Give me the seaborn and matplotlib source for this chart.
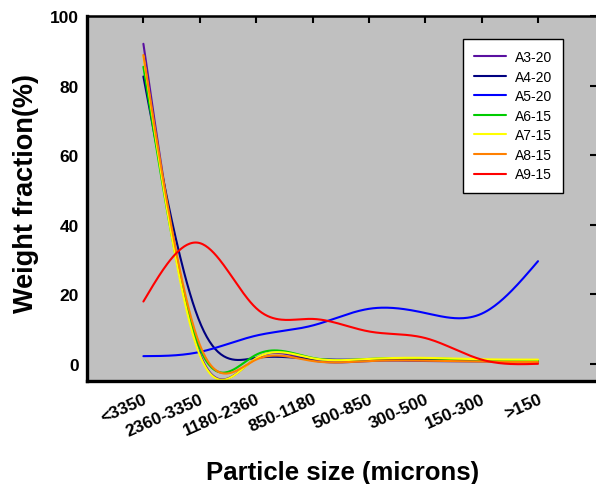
import numpy as np
import pandas as pd
import seaborn as sns
import matplotlib
matplotlib.use('Agg')
import matplotlib.pyplot as plt

# date (procente din greutate pe fractii granulometrice)
sizes = ['<3350', '2360-3350', '1180-2360', '850-1180',
         '500-850', '300-500', '150-300', '>150']
a3_20 = [92.0, 3.0, 1.6, 1.0, 0.8, 0.8, 0.7, 0.5]
a4_20 = [82.6, 12.0, 1.7, 1.4, 1.2, 1.2, 0.9, 0.6]
a5_20 = [2.2, 3.4, 8.1, 11.0, 15.8, 14.6, 14.4, 29.5]
a6_15 = [85.4, 4.5, 2.6, 1.7, 1.4, 1.6, 1.1, 0.9]
a7_15 = [88.5, 2.5, 1.6, 1.6, 1.4, 1.7, 1.3, 1.2]
a8_15 = [88.8, 5.5, 1.2, 0.8, 0.8, 0.9, 0.6, 0.5]
a9_15 = [17.9, 34.7, 16.0, 12.9, 9.3, 7.4, 1.2, 0.0]

series = {'A3-20': a3_20, 'A4-20': a4_20, 'A5-20': a5_20, 'A6-15': a6_15,
          'A7-15': a7_15, 'A8-15': a8_15, 'A9-15': a9_15}
colors = ['#5A10A0', '#000080', '#0000FF', '#00CC00', '#FFFF00', '#FF8000', '#FF0000']


def natural_spline(y, per_seg=40):
    # spline cubic natural, doar pentru a netezi linia intre puncte (ca in original)
    y = np.asarray(y, dtype=float)
    n = len(y)
    A = np.zeros((n, n))
    b = np.zeros(n)
    A[0, 0] = A[-1, -1] = 1
    for i in range(1, n - 1):
        A[i, i - 1], A[i, i], A[i, i + 1] = 1, 4, 1
        b[i] = 6 * (y[i + 1] - 2 * y[i] + y[i - 1])
    M = np.linalg.solve(A, b)
    xs, ys = [], []
    for i in range(n - 1):
        t = np.linspace(0, 1, per_seg, endpoint=(i == n - 2))
        s = (M[i] * (1 - t) ** 3 / 6 + M[i + 1] * t ** 3 / 6
             + (y[i] - M[i] / 6) * (1 - t) + (y[i + 1] - M[i + 1] / 6) * t)
        xs.append(i + t)
        ys.append(s)
    return np.concatenate(xs), np.concatenate(ys)


rows = []
for name, vals in series.items():
    xs, ys = natural_spline(vals)
    rows.append(pd.DataFrame({'x': xs, 'y': ys, 'sample': name}))
df = pd.concat(rows, ignore_index=True)

sns.set_style('white')
plt.rcParams['font.family'] = ['Liberation Sans', 'DejaVu Sans']
plt.rcParams['text.color'] = 'black'
plt.rcParams['xtick.color'] = 'black'
plt.rcParams['ytick.color'] = 'black'
plt.rcParams['axes.labelcolor'] = 'black'

fig = plt.figure(figsize=(5.96, 4.85), dpi=100)
ax = fig.add_axes([0.146, 0.212, 0.856, 0.753])
ax.set_facecolor('#C0C0C0')

sns.lineplot(data=df, x='x', y='y', hue='sample', palette=colors,
             sort=False, estimator=None, linewidth=1.5, ax=ax)

ax.set_xlim(-1, 8.05)
ax.set_ylim(-5, 100)
ax.set_xticks(range(len(sizes)))
ax.set_xticklabels(sizes, rotation=24, ha='right', va='top', rotation_mode='anchor',
                   fontsize=12.5, fontweight='bold')
ax.set_yticks([0, 20, 40, 60, 80, 100])
ax.set_yticklabels(['0', '20', '40', '60', '80', '100'], fontsize=12.5, fontweight='bold')
ax.tick_params(axis='both', direction='out', length=5, width=1.5, pad=1)
ax.tick_params(axis='x', pad=2)

for side in ['left', 'bottom']:
    ax.spines[side].set_linewidth(2.4)
    ax.spines[side].set_color('black')
for side in ['top', 'right']:
    ax.spines[side].set_linewidth(1.8)
    ax.spines[side].set_color('black')

# tick-uri interioare sus si in dreapta
top = ax.secondary_xaxis('top')
top.set_xticks(range(len(sizes)))
top.tick_params(direction='in', length=5, width=1.5, labeltop=False)
right = ax.secondary_yaxis('right')
right.set_yticks([0, 20, 40, 60, 80, 100])
right.tick_params(direction='in', length=5, width=1.5, labelright=False)

ax.set_xlabel('Particle size (microns)', fontsize=18.5, fontweight='bold')
ax.set_ylabel('Weight fraction(%)', fontsize=19.5, fontweight='bold')
ax.xaxis.set_label_coords(0.5, -0.216)
ax.yaxis.set_label_coords(-0.094, 0.518)

leg = ax.legend(loc='upper right', bbox_to_anchor=(0.933, 0.937), borderaxespad=0,
                fontsize=10, frameon=True, fancybox=False, handlelength=2.3,
                handletextpad=0.6, labelspacing=0.4, borderpad=0.8)
leg.get_frame().set_edgecolor('black')
leg.get_frame().set_facecolor('white')
leg.get_frame().set_linewidth(1.0)
leg.get_frame().set_alpha(1)
for line in leg.get_lines():
    line.set_linewidth(1.5)

fig.savefig('out.png', dpi=100)
